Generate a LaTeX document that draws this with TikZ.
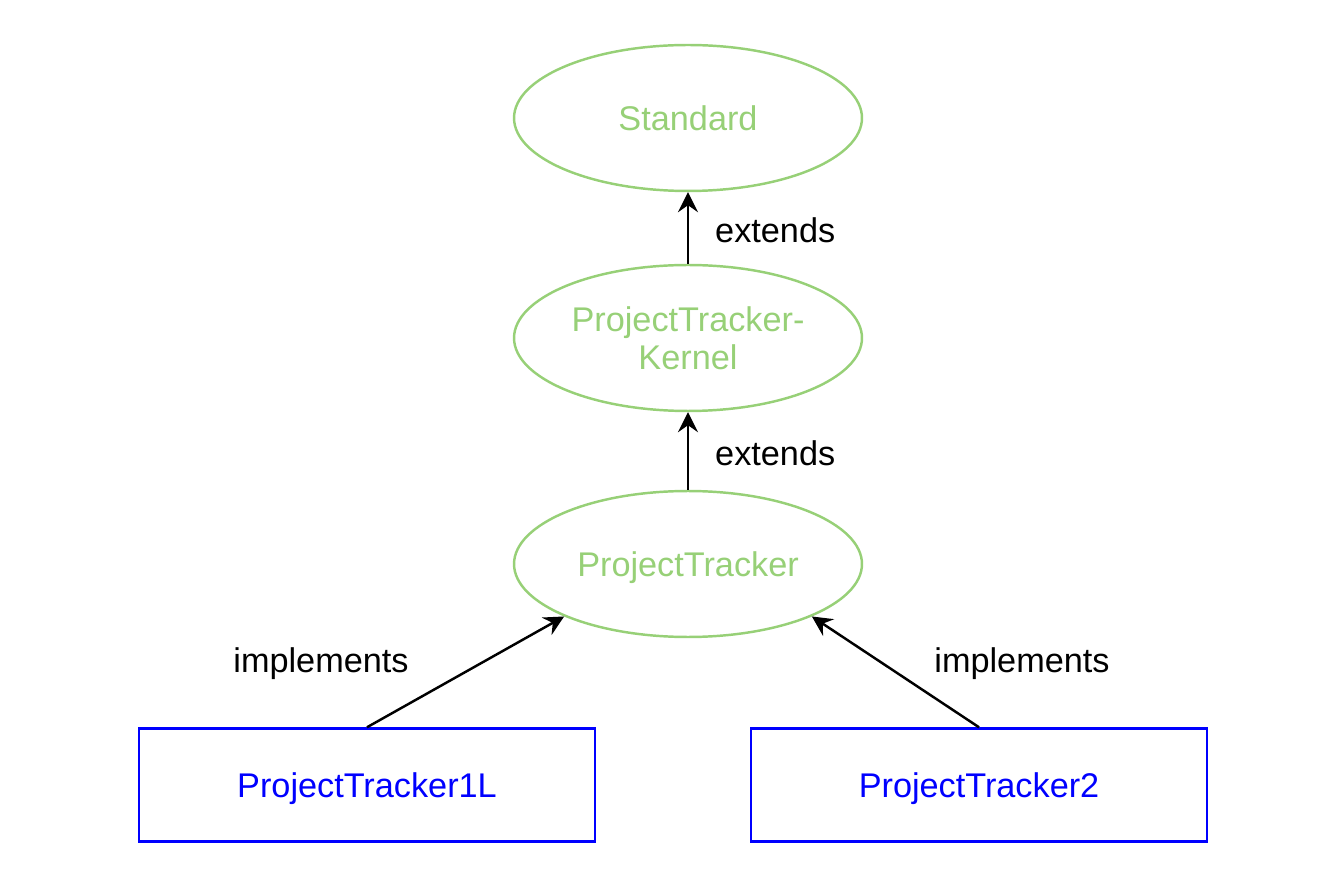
\documentclass[tikz,border=0pt]{standalone}
\usepackage{fontspec}
\setmainfont{Liberation Sans}
\usepackage{xcolor}
\usetikzlibrary{shapes.geometric,arrows.meta,positioning}
\definecolor{lgreen}{HTML}{97D077}
\definecolor{pblue}{HTML}{0000FF}
\tikzset{
  E/.style={draw=lgreen, ellipse, line width=1.4pt, text=lgreen, align=center,
            minimum width=6.96cm, minimum height=2.92cm, inner sep=0pt,
            text depth=0pt, font=\fontsize{19.5}{21.5}\selectfont},
  R/.style={draw=pblue, rectangle, line width=1.4pt, text=pblue,
            minimum width=9.12cm, minimum height=2.26cm, inner sep=0pt,
            text depth=0pt, font=\fontsize{19.5}{21.5}\selectfont},
  SA/.style={-{Stealth[length=4mm, width=4mm, inset=1.4mm]}, line width=1.4pt},
  LB/.style={font=\fontsize{19.5}{21.5}\selectfont, inner sep=0pt}
}
\begin{document}
\begin{tikzpicture}[x=0.02cm, y=-0.02cm]
\useasboundingbox (0,0) rectangle (1324,884);

% Interfaces
\node[E] (Std) at (688,118) {Standard};
\node[E] (Kern) at (688,338) {ProjectTracker-\\Kernel};
\node[E] (PT) at (688,564) {ProjectTracker};

% Implementations
\node[R] (PT1L) at (367,785) {ProjectTracker1L};
\node[R] (PT2) at (979,785) {ProjectTracker2};

% -- extends --
\draw[SA] (Kern.north) -- (Std.south)
    node[midway, right=0.52cm, LB, yshift=-0.04cm] {extends};
\draw[SA] (PT.north) -- (Kern.south)
    node[midway, right=0.52cm, LB, yshift=-0.04cm] {extends};

% -- implements --
\draw[SA] (PT1L.north) -- (PT.south west);
\draw[SA] (PT2.north) -- (PT.south east);
\node[LB] (impA) at (321,664) {implements};
\node[LB] (impB) at (1022,664) {implements};

\end{tikzpicture}
\end{document}
